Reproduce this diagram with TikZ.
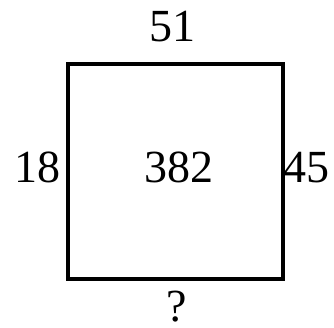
\documentclass[tikz,border=0pt]{standalone}
\usepackage{fontspec}
\setmainfont{Liberation Serif}
\begin{document}
\begin{tikzpicture}[x=1pt,y=-1pt,
  lbl/.style={inner sep=0pt,font=\fontsize{46}{50}\selectfont},
  box/.style={draw=black,line width=3.8pt,minimum width=215pt,minimum height=215pt,inner sep=0pt}]
\useasboundingbox[fill=white] (0,0) rectangle (334,328);
\node[box] (sq) at (175.5,171.5) {};
\node[lbl] (top) at (172,26.5) {51};
\node[lbl] (left) at (37.5,167.5) {18};
\node[lbl] (mid) at (178.5,167.5) {382};
\node[lbl] (right) at (306,167.5) {45};
\node[lbl] (bot) at (177,306.5) {?};
\end{tikzpicture}
\end{document}
